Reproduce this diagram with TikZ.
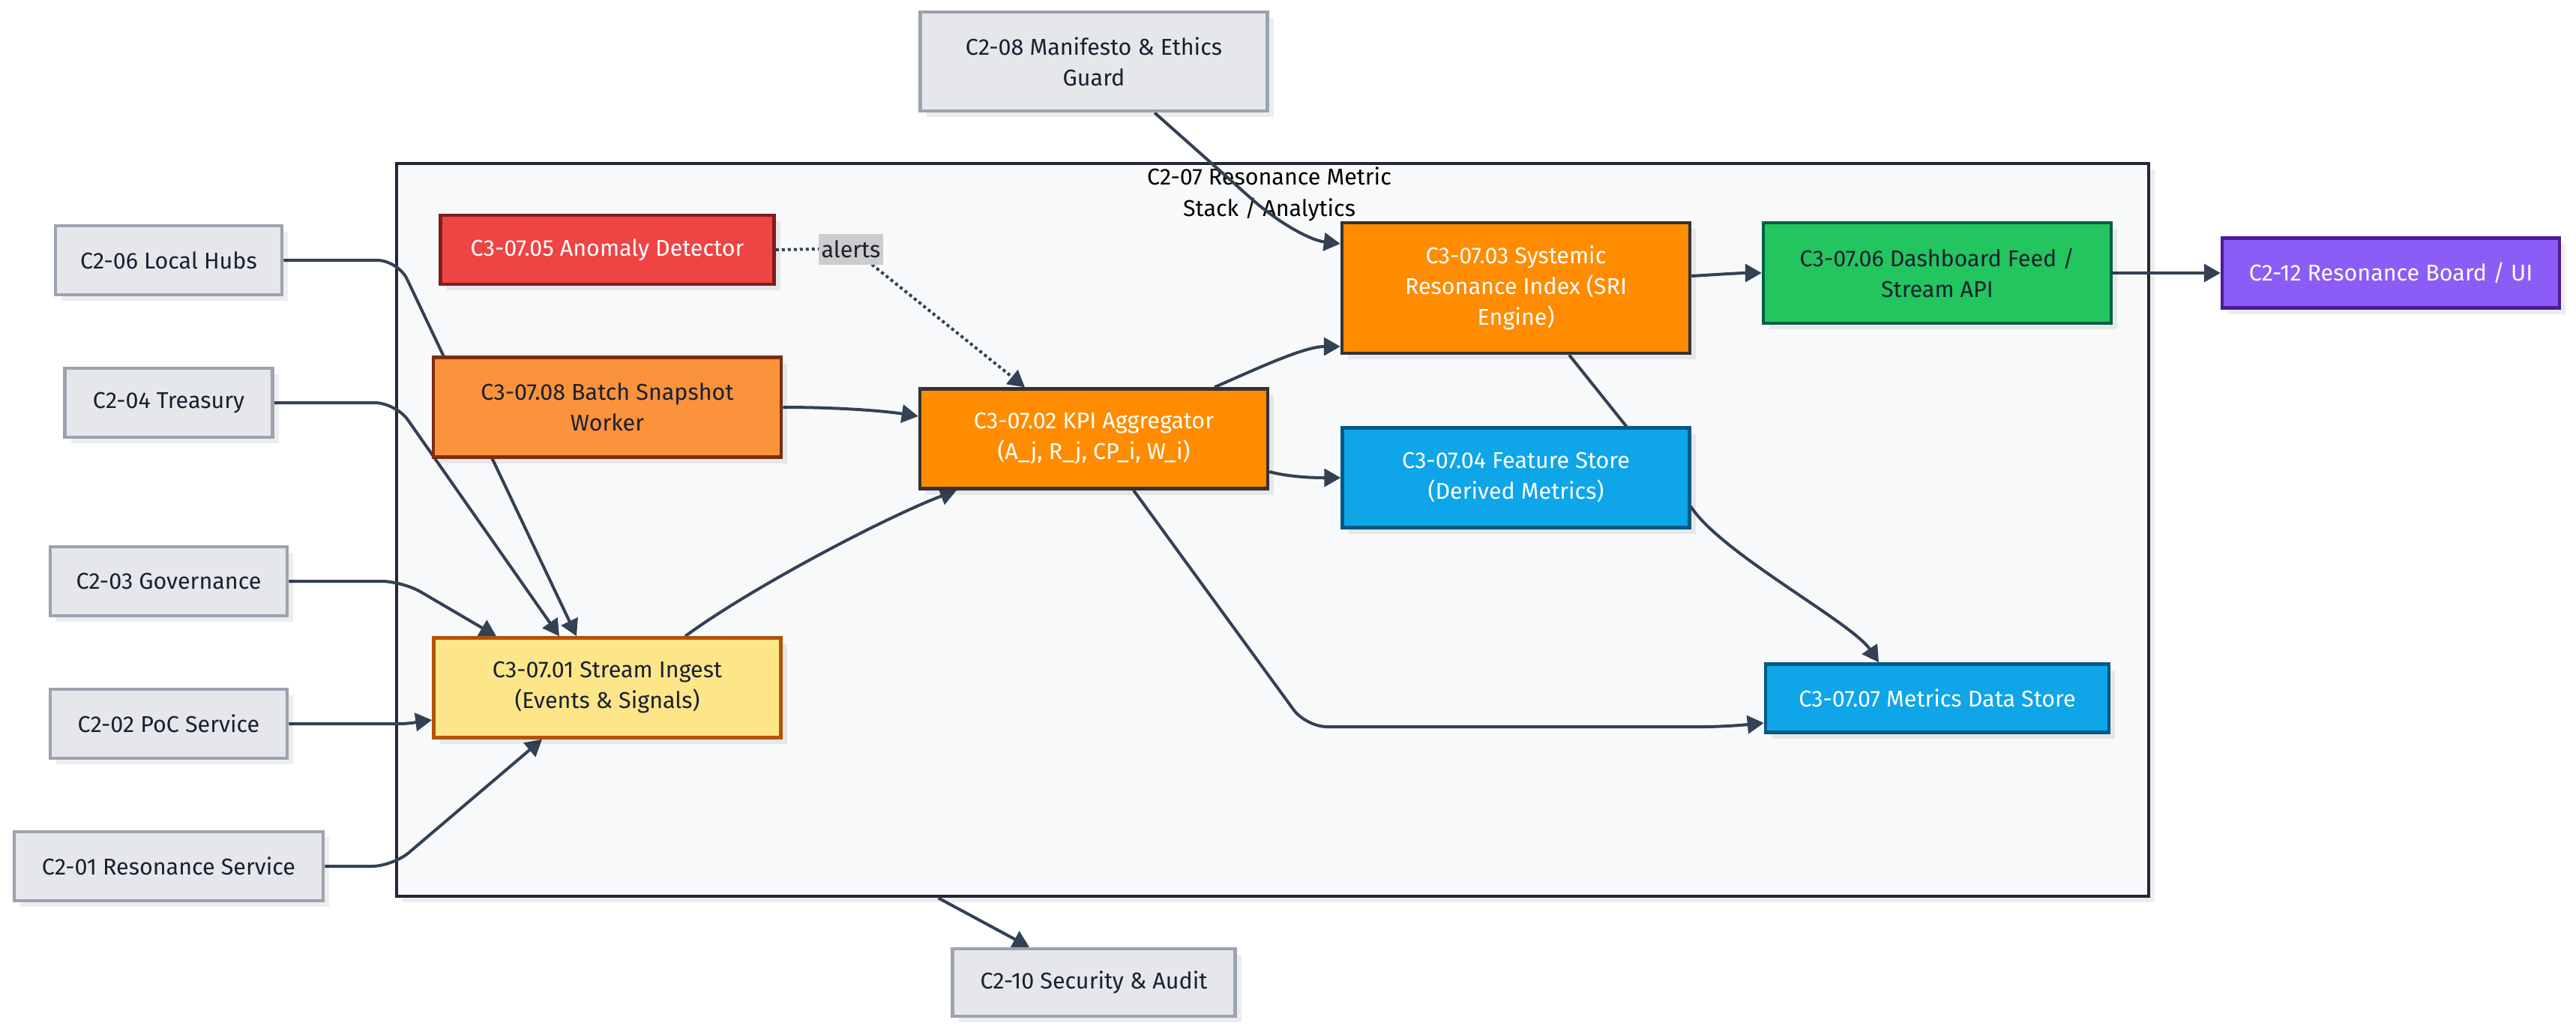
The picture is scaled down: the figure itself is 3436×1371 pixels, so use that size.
\documentclass[tikz,border=0pt]{standalone}
\usepackage{fontspec}
\setmainfont{Fira Sans}
\usetikzlibrary{arrows.meta,shadows,calc}
\definecolor{edgec}{HTML}{334155}
\definecolor{extfill}{HTML}{E5E7EB}
\definecolor{extdraw}{HTML}{9CA3AF}
\definecolor{textdark}{HTML}{1A2030}
\definecolor{anofill}{HTML}{EF4444}
\definecolor{anodraw}{HTML}{7F1D1D}
\definecolor{batfill}{HTML}{FB923C}
\definecolor{batdraw}{HTML}{7C2D12}
\definecolor{ingfill}{HTML}{FDE68A}
\definecolor{ingdraw}{HTML}{B45309}
\definecolor{kpifill}{HTML}{FF8C00}
\definecolor{kpidraw}{HTML}{333333}
\definecolor{feafill}{HTML}{0EA5E9}
\definecolor{feadraw}{HTML}{075985}
\definecolor{dasfill}{HTML}{22C55E}
\definecolor{dasdraw}{HTML}{065F46}
\definecolor{bodfill}{HTML}{8B5CF6}
\definecolor{boddraw}{HTML}{4C1D95}
\definecolor{clufill}{HTML}{F8F9FB}
\definecolor{cludraw}{HTML}{232634}
\definecolor{lblfill}{HTML}{CCCCCC}
\pgfdeclarelayer{bg}
\pgfdeclarelayer{edges}
\pgfsetlayers{bg,edges,main}
\tikzset{
  box/.style={draw, line width=4.5pt, inner sep=0pt, minimum height=92pt, align=center,
    font=\fontsize{30.5}{41}\selectfont,
    drop shadow={shadow xshift=8pt, shadow yshift=-8pt, fill=black, opacity=0.07}},
  ext/.style={box, fill=extfill, draw=extdraw, text=textdark},
  anobox/.style={box, fill=anofill, draw=anodraw, text=white},
  batbox/.style={box, fill=batfill, draw=batdraw, text=textdark},
  ingbox/.style={box, fill=ingfill, draw=ingdraw, text=textdark},
  kpibox/.style={box, fill=kpifill, draw=kpidraw, text=white},
  feabox/.style={box, fill=feafill, draw=feadraw, text=white},
  dasbox/.style={box, fill=dasfill, draw=dasdraw, text=textdark},
  bodbox/.style={box, fill=bodfill, draw=boddraw, text=white},
  edge/.style={draw=edgec, line width=4pt, -{Triangle[length=22pt,width=24pt]}},
  dotline/.style={draw=edgec, line width=4pt, dash pattern=on 4pt off 4pt},
}
\begin{document}
\begin{tikzpicture}[x=1pt,y=-1pt]
\useasboundingbox (0,0) rectangle (3436,1371);

\begin{pgfonlayer}{bg}
\fill[white] (0,0) rectangle (3436,1371);
\node[draw=cludraw, fill=clufill, line width=4.5pt, minimum width=2337pt, minimum height=977pt, inner sep=0pt,
  drop shadow={shadow xshift=8pt, shadow yshift=-8pt, fill=black, opacity=0.07}] (cluster) at (1697.5,706.5) {};
\node[font=\fontsize{30.5}{42}\selectfont, align=center, text=black] (title) at (1693,259) {C2-07 Resonance Metric\\Stack / Analytics};
\end{pgfonlayer}

% external nodes
\node[ext, minimum width=302pt] (hubs) at (225,347) {C2-06 Local Hubs};
\node[ext, minimum width=277pt] (treas) at (225,537) {C2-04 Treasury};
\node[ext, minimum width=316pt] (gov) at (225,775) {C2-03 Governance};
\node[ext, minimum width=316pt] (poc) at (225,965) {C2-02 PoC Service};
\node[ext, minimum width=412pt] (ress) at (225,1155) {C2-01 Resonance Service};
\node[ext, minimum width=463pt, minimum height=132pt] (manif) at (1459,82) {C2-08 Manifesto \& Ethics\\Guard};
\node[ext, minimum width=377pt, minimum height=90pt] (sec) at (1459,1310) {C2-10 Security \& Audit};
\node[bodbox, minimum width=450pt, minimum height=93pt] (board) at (3189,364) {C2-12 Resonance Board / UI};

% inner nodes
\node[anobox, minimum width=445pt] (anomaly) at (810,333) {C3-07.05 Anomaly Detector};
\node[batbox, minimum width=464pt, minimum height=133pt] (batch) at (810,543) {C3-07.08 Batch Snapshot\\Worker};
\node[ingbox, minimum width=463pt, minimum height=133pt] (ingest) at (810,917) {C3-07.01 Stream Ingest\\(Events \& Signals)};
\node[kpibox, minimum width=464pt, minimum height=133pt] (kpi) at (1459,585) {C3-07.02 KPI Aggregator\\(A\_j, R\_j, CP\_i, W\_i)};
\node[kpibox, minimum width=464pt, minimum height=174pt] (sri) at (2022,384) {C3-07.03 Systemic\\Resonance Index (SRI\\Engine)};
\node[feabox, minimum width=463pt, minimum height=133pt] (feature) at (2022,637) {C3-07.04 Feature Store\\(Derived Metrics)};
\node[dasbox, minimum width=464pt, minimum height=134pt] (dash) at (2584,364) {C3-07.06 Dashboard Feed /\\Stream API};
\node[feabox, minimum width=458pt, minimum height=91pt] (metrics) at (2584,931) {C3-07.07 Metrics Data Store};

\node[fill=lblfill, text=textdark, inner sep=0pt, minimum width=86pt, minimum height=41pt, font=\fontsize{30.5}{41}\selectfont] (alerts) at (1135,332) {alerts};

\begin{pgfonlayer}{edges}
\draw[edge, rounded corners=28pt] (hubs.east) -- (531,347) -- ([xshift=-41pt]ingest.north);
\draw[edge, rounded corners=28pt] (treas.east) -- (528,537) -- ([xshift=-64pt]ingest.north);
\draw[edge, rounded corners=28pt] (gov.east) -- (537,775) -- ([xshift=-148pt]ingest.north);
\draw[edge] (poc.east) -- (530,965) .. controls (550,965) and (560,962) .. ([yshift=-43pt]ingest.west);
\draw[edge, rounded corners=28pt] (ress.east) -- (524,1155) -- ([xshift=-87pt]ingest.south);
\draw[edge] ([xshift=104pt]ingest.north) .. controls (1000,785) and (1180,690) .. ([xshift=-183pt]kpi.south);
\draw[edge] (batch.east) .. controls (1120,543) and (1180,548) .. ([yshift=30pt]kpi.west);
\draw[dotline] (anomaly.east) -- (alerts.west);
\draw[edge, dash pattern=on 4pt off 4pt] ([xshift=28pt]alerts.south) -- ([xshift=-92pt]kpi.north);
\draw[edge] ([xshift=161pt]kpi.north) .. controls (1680,490) and (1740,462) .. ([yshift=-78pt]sri.west);
\draw[edge] ([yshift=-44pt]kpi.east) .. controls (1720,636) and (1750,637) .. (feature.west);
\draw[edge] ([xshift=81pt]manif.south) -- (1667,263) .. controls (1700,293) and (1745,320) .. ([yshift=59pt]sri.west);
\draw[edge] ([yshift=16pt]sri.east) .. controls (2290,366) and (2320,364) .. (dash.west);
\draw[edge] (dash.east) -- (board.west);
\draw[edge] ([xshift=71pt]sri.south) -- (2257,678) .. controls (2300,740) and (2470,830) .. ([xshift=-78pt]metrics.north);
\draw[edge, rounded corners=28pt] ([xshift=53pt]kpi.south) -- (1742,969) -- (2300,969) -- ([yshift=-33pt]metrics.west);
\draw[edge] ([xshift=-446pt]cluster.south) -- ([xshift=-86pt]sec.north);
\end{pgfonlayer}
\end{tikzpicture}
\end{document}
